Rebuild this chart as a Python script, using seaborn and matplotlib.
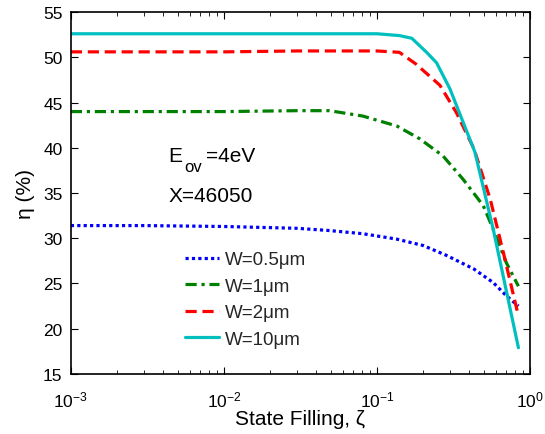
import matplotlib
matplotlib.use("Agg")
import matplotlib.pyplot as plt
import seaborn as sns
import numpy as np

sns.set_theme(style="white")
plt.rcParams['font.family'] = ['Liberation Sans', 'DejaVu Sans']
plt.rcParams['mathtext.fontset'] = 'custom'
plt.rcParams['mathtext.rm'] = 'Liberation Sans'
plt.rcParams['mathtext.it'] = 'Liberation Sans:italic'

# Data
x_w05 = [0.001, 0.003, 0.01, 0.03, 0.049, 0.081, 0.135, 0.2, 0.285, 0.43, 0.575, 0.70, 0.84]
y_w05 = [31.4, 31.4, 31.3, 31.1, 30.85, 30.5, 29.9, 29.2, 28.1, 26.6, 25.1, 23.65, 22.5]

x_w1 = [0.001, 0.003, 0.01, 0.03, 0.049, 0.081, 0.135, 0.19, 0.27, 0.366, 0.495, 0.575, 0.70, 0.84]
y_w1 = [44.0, 44.0, 44.0, 44.1, 44.1, 43.5, 42.4, 41.0, 39.1, 36.5, 33.6, 31.0, 27.3, 24.7]

x_w2 = [0.001, 0.003, 0.01, 0.03, 0.1, 0.14, 0.18, 0.258, 0.33, 0.43, 0.55, 0.67, 0.84]
y_w2 = [50.6, 50.6, 50.6, 50.7, 50.7, 50.55, 49.25, 46.9, 43.9, 39.9, 34.3, 28.4, 21.4]

x_w10 = [0.001, 0.003, 0.01, 0.03, 0.1, 0.14, 0.169, 0.211, 0.245, 0.30, 0.366, 0.437, 0.575, 0.84]
y_w10 = [52.6, 52.6, 52.6, 52.6, 52.6, 52.4, 52.1, 50.55, 49.4, 46.5, 42.8, 39.5, 31.0, 17.9]

labels = ["W=0.5μm", "W=1μm", "W=2μm", "W=10μm"]
colors = ["#0000ff", "#008000", "#ff0000", "#00bfbf"]
styles = [(0, (1, 1)), (0, (3.5, 1.5, 1, 1.5)), (0, (3.5, 1.8)), "-"]

xticks = [1e-3, 1e-2, 1e-1, 1e0]
xticklabels = [r"$10^{-3}$", r"$10^{-2}$", r"$10^{-1}$", r"$10^{0}$"]
yticks = [15, 20, 25, 30, 35, 40, 45, 50, 55]

fig = plt.figure(figsize=(5.45, 4.35), dpi=100)
ax = fig.add_axes([0.130, 0.138, 0.8425, 0.832])

series = [(x_w05, y_w05), (x_w1, y_w1), (x_w2, y_w2), (x_w10, y_w10)]
for (xs, ys), lab, c, ls in zip(series, labels, colors, styles):
    sns.lineplot(x=xs, y=ys, ax=ax, color=c, linewidth=2.3, linestyle=ls,
                 label=lab, estimator=None, sort=False)

ax.set_xscale("log")
ax.set_xlim(1e-3, 1)
ax.set_ylim(15, 55)
ax.set_xticks(xticks)
ax.set_xticklabels(xticklabels)
ax.set_yticks(yticks)

ax.tick_params(axis='both', which='both', direction='in', top=True, right=True,
               bottom=True, left=True, labelsize=12.5, colors='black')
ax.tick_params(which='major', length=5, width=0.8)
ax.tick_params(which='minor', length=3, width=0.6)
ax.tick_params(axis='y', which='minor', left=False, right=False)
ax.tick_params(axis='x', which='major', pad=11)
ax.tick_params(axis='y', which='major', pad=6)
for s in ax.spines.values():
    s.set_color('black')
    s.set_linewidth(1.2)

ax.set_xlabel("State Filling, ζ", fontsize=15, color='black', labelpad=0)
ax.set_ylabel("η (%)", fontsize=15, color='black', labelpad=6)

ax.text(0.213, 0.588, "E", transform=ax.transAxes, fontsize=15, color='black')
ax.text(0.248, 0.562, "ov", transform=ax.transAxes, fontsize=12, color='black')
ax.text(0.294, 0.588, "=4eV", transform=ax.transAxes, fontsize=15, color='black')
ax.text(0.213, 0.478, "X=46050", transform=ax.transAxes, fontsize=15, color='black')

leg = ax.legend(loc='upper left', bbox_to_anchor=(0.233, 0.36), frameon=False,
                fontsize=13.5, handlelength=1.8, handletextpad=0.3, labelspacing=0.5,
                borderaxespad=0)

fig.savefig("out.png", dpi=100)
